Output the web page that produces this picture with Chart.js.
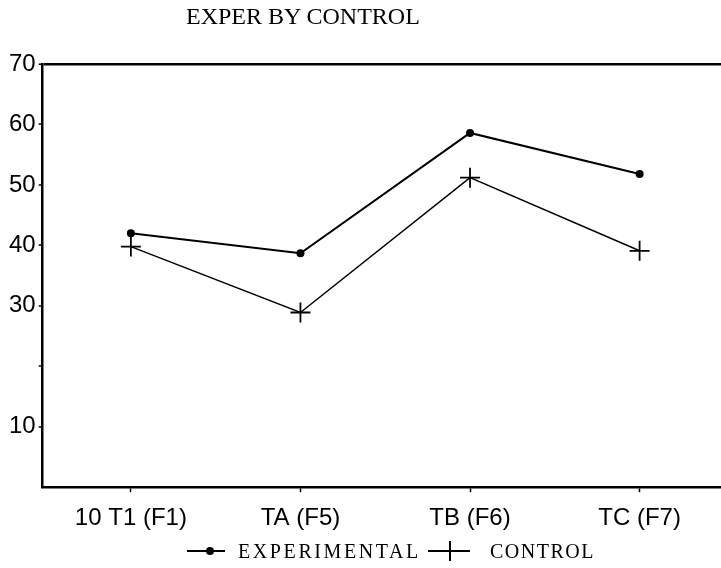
<!DOCTYPE html>
<html>
<head>
<meta charset="utf-8">
<script src="https://cdn.jsdelivr.net/npm/chart.js@4.4.1/dist/chart.umd.min.js"></script>
<style>
  html, body { margin: 0; padding: 0; background: #fff; }
  #wrap { position: relative; width: 721px; height: 568px; overflow: hidden; }
  #c { position: absolute; left: 0; top: 0; }
  #title { position: absolute; left: 186px; top: 4px; font: 24px/24px "Liberation Serif", "Times New Roman", serif; color: #000; white-space: nowrap; }
  #legend { position: absolute; left: 187px; top: 540px; font: 20px/22px "Liberation Serif", "Times New Roman", serif; letter-spacing: 2px; color: #000; white-space: nowrap; }
  .item { position: absolute; top: 0; }
  .mk { position: absolute; top: 0; height: 22px; }
  .mk .ln { position: absolute; left: 0; right: 0; top: 10px; height: 2px; background: #000; }
  .mk .dot { position: absolute; left: 19px; top: 7px; width: 8px; height: 8px; border-radius: 50%; background: #000; }
  .mk .vt { position: absolute; top: 1px; width: 2px; height: 20px; background: #000; }
  .mk .thin { height: 1.5px; }
</style>
</head>
<body>
<div id="wrap">
  <canvas id="c" width="721" height="568"></canvas>
  <div id="title"></div>
  <div id="legend"></div>
</div>
<script>
// ---- data ----
const chartTitle = "EXPER BY CONTROL";
const categories = ["10 T1 (F1)", "TA (F5)", "TB (F6)", "TC (F7)"];
const seriesNames = ["EXPERIMENTAL", "CONTROL"];
const experimental = [42, 38.7, 58.6, 51.8];
const control = [39.8, 28.9, 51.2, 39.1];
const yTickValues = [0, 10, 20, 30, 40, 50, 60, 70];
const yTickLabels = ["", "10", "", "30", "40", "50", "60", "70"];

// ---- title & legend (HTML text) ----
document.getElementById('title').textContent = chartTitle;
const lg = document.getElementById('legend');
lg.innerHTML =
  '<span class="mk" style="left:0;width:38px"><span class="ln"></span><span class="dot"></span></span>' +
  '<span class="item" style="left:51px;letter-spacing:2.6px">' + seriesNames[0] + '</span>' +
  '<span class="mk" style="left:241px;width:42px"><span class="ln thin"></span><span class="vt" style="left:21px;width:1.5px"></span></span>' +
  '<span class="item" style="left:303px;letter-spacing:1.5px">' + seriesNames[1] + '</span>';

const toPts = arr => arr.map((v, i) => ({ x: i + 1, y: v }));

new Chart(document.getElementById('c'), {
  type: 'line',
  data: {
    datasets: [
      {
        label: seriesNames[0],
        data: toPts(experimental),
        borderColor: '#000',
        backgroundColor: '#000',
        borderWidth: 2,
        pointStyle: 'circle',
        pointRadius: 4,
        pointBorderWidth: 0,
        tension: 0,
        fill: false
      },
      {
        label: seriesNames[1],
        data: toPts(control),
        borderColor: '#000',
        backgroundColor: '#000',
        borderWidth: 1.5,
        pointStyle: 'cross',
        pointRadius: 10,
        pointBorderWidth: 1.8,
        tension: 0,
        fill: false
      }
    ]
  },
  options: {
    responsive: false,
    animation: false,
    devicePixelRatio: 1,
    layout: { autoPadding: false, padding: { top: 64, left: 6, right: 0, bottom: 23 } },
    plugins: {
      legend: { display: false },
      title: { display: false },
      tooltip: { enabled: false }
    },
    scales: {
      x: {
        type: 'linear',
        min: 0.48,
        max: 4.48,
        afterBuildTicks: axis => { axis.ticks = categories.map((c, i) => ({ value: i + 1 })); },
        afterFit: axis => { axis.paddingLeft = 0; axis.paddingRight = 0; },
        ticks: {
          color: '#000',
          font: { family: '"Liberation Sans", Arial, sans-serif', size: 24 },
          padding: 12,
          maxRotation: 0,
          autoSkip: false,
          callback: v => categories[Math.round(v) - 1] ?? ''
        },
        grid: { drawOnChartArea: false, drawTicks: true, tickLength: 5, tickColor: '#000', tickWidth: 1.5 },
        border: { display: true, color: '#000', width: 2.5 }
      },
      y: {
        min: 0,
        max: 70,
        afterBuildTicks: axis => { axis.ticks = yTickValues.map(v => ({ value: v })); },
        ticks: {
          color: '#000',
          font: { family: '"Liberation Sans", Arial, sans-serif', size: 24 },
          padding: 3,
          callback: (v) => { const k = yTickValues.indexOf(v); return k >= 0 ? yTickLabels[k] : ''; }
        },
        grid: {
          drawTicks: true,
          tickLength: 4,
          color: ctx => (ctx.tick && ctx.tick.value === 70) ? '#000' : 'rgba(0,0,0,0)',
          lineWidth: ctx => (ctx.tick && ctx.tick.value === 70) ? 2.5 : 0,
          tickColor: ctx => (ctx.tick && ctx.tick.value === 0) ? 'rgba(0,0,0,0)' : '#000',
          tickWidth: 1.5
        },
        border: { display: true, color: '#000', width: 2.5 }
      }
    }
  }
});
</script>
</body>
</html>
